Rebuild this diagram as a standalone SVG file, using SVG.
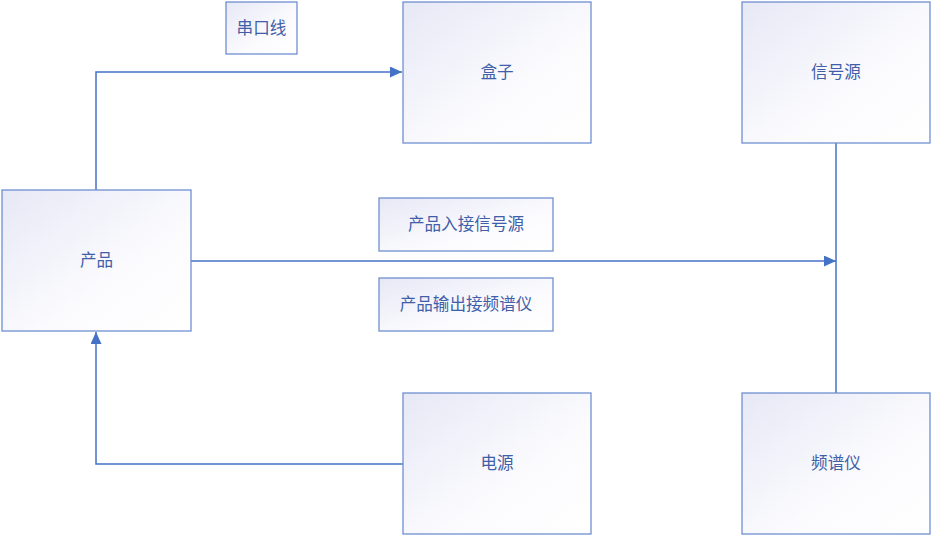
<svg xmlns="http://www.w3.org/2000/svg" width="933" height="536" viewBox="0 0 933 536">
<style>
.box{fill:url(#g);stroke:#6f8fd0;stroke-width:1.3}
.t{font-family:"Noto Sans CJK SC","Liberation Sans",sans-serif;font-size:16.6px;fill:#3f60a8;text-anchor:middle;dominant-baseline:central}
.c{fill:none;stroke:#4472c4;stroke-width:1.5}
</style>
<defs>
<linearGradient id="g" x1="0" y1="0" x2="1" y2="1">
<stop offset="0" stop-color="#e6e8f5"/>
<stop offset="0.6" stop-color="#fbfbfe"/>
<stop offset="1" stop-color="#ffffff"/>
</linearGradient>
<marker id="a" viewBox="0 0 12 11" refX="12" refY="5.5" markerWidth="12" markerHeight="11" markerUnits="userSpaceOnUse" orient="auto">
<path d="M0,0 L12,5.5 L0,11 z" fill="#4472c4"/>
</marker>
</defs>
<g id="connectors">
<path class="c" d="M96,190 V72 H402" marker-end="url(#a)"/>
<path class="c" d="M191,261 H836" marker-end="url(#a)"/>
<path class="c" d="M836,143 V393"/>
<path class="c" d="M403,464 H96 V332" marker-end="url(#a)"/>
</g>
<g id="chanpin"><rect class="box" x="2" y="190" width="189" height="141"/><text class="t" x="96.5" y="259">产品</text></g>
<g id="chuankouxian"><rect class="box" x="226" y="2" width="71" height="52"/><text class="t" x="261.5" y="26.5">串口线</text></g>
<g id="hezi"><rect class="box" x="403" y="2" width="188" height="141"/><text class="t" x="497" y="71">盒子</text></g>
<g id="xinhaoyuan"><rect class="box" x="742" y="2" width="188" height="141"/><text class="t" x="836" y="71">信号源</text></g>
<g id="dianyuan"><rect class="box" x="403" y="393" width="188" height="141"/><text class="t" x="497" y="462">电源</text></g>
<g id="pinpuyi"><rect class="box" x="742" y="393" width="188" height="141"/><text class="t" x="836" y="462">频谱仪</text></g>
<g id="label1"><rect class="box" x="379" y="198" width="174" height="53"/><text class="t" x="466" y="223">产品入接信号源</text></g>
<g id="label2"><rect class="box" x="379" y="278" width="174" height="53"/><text class="t" x="466" y="303">产品输出接频谱仪</text></g>
</svg>
